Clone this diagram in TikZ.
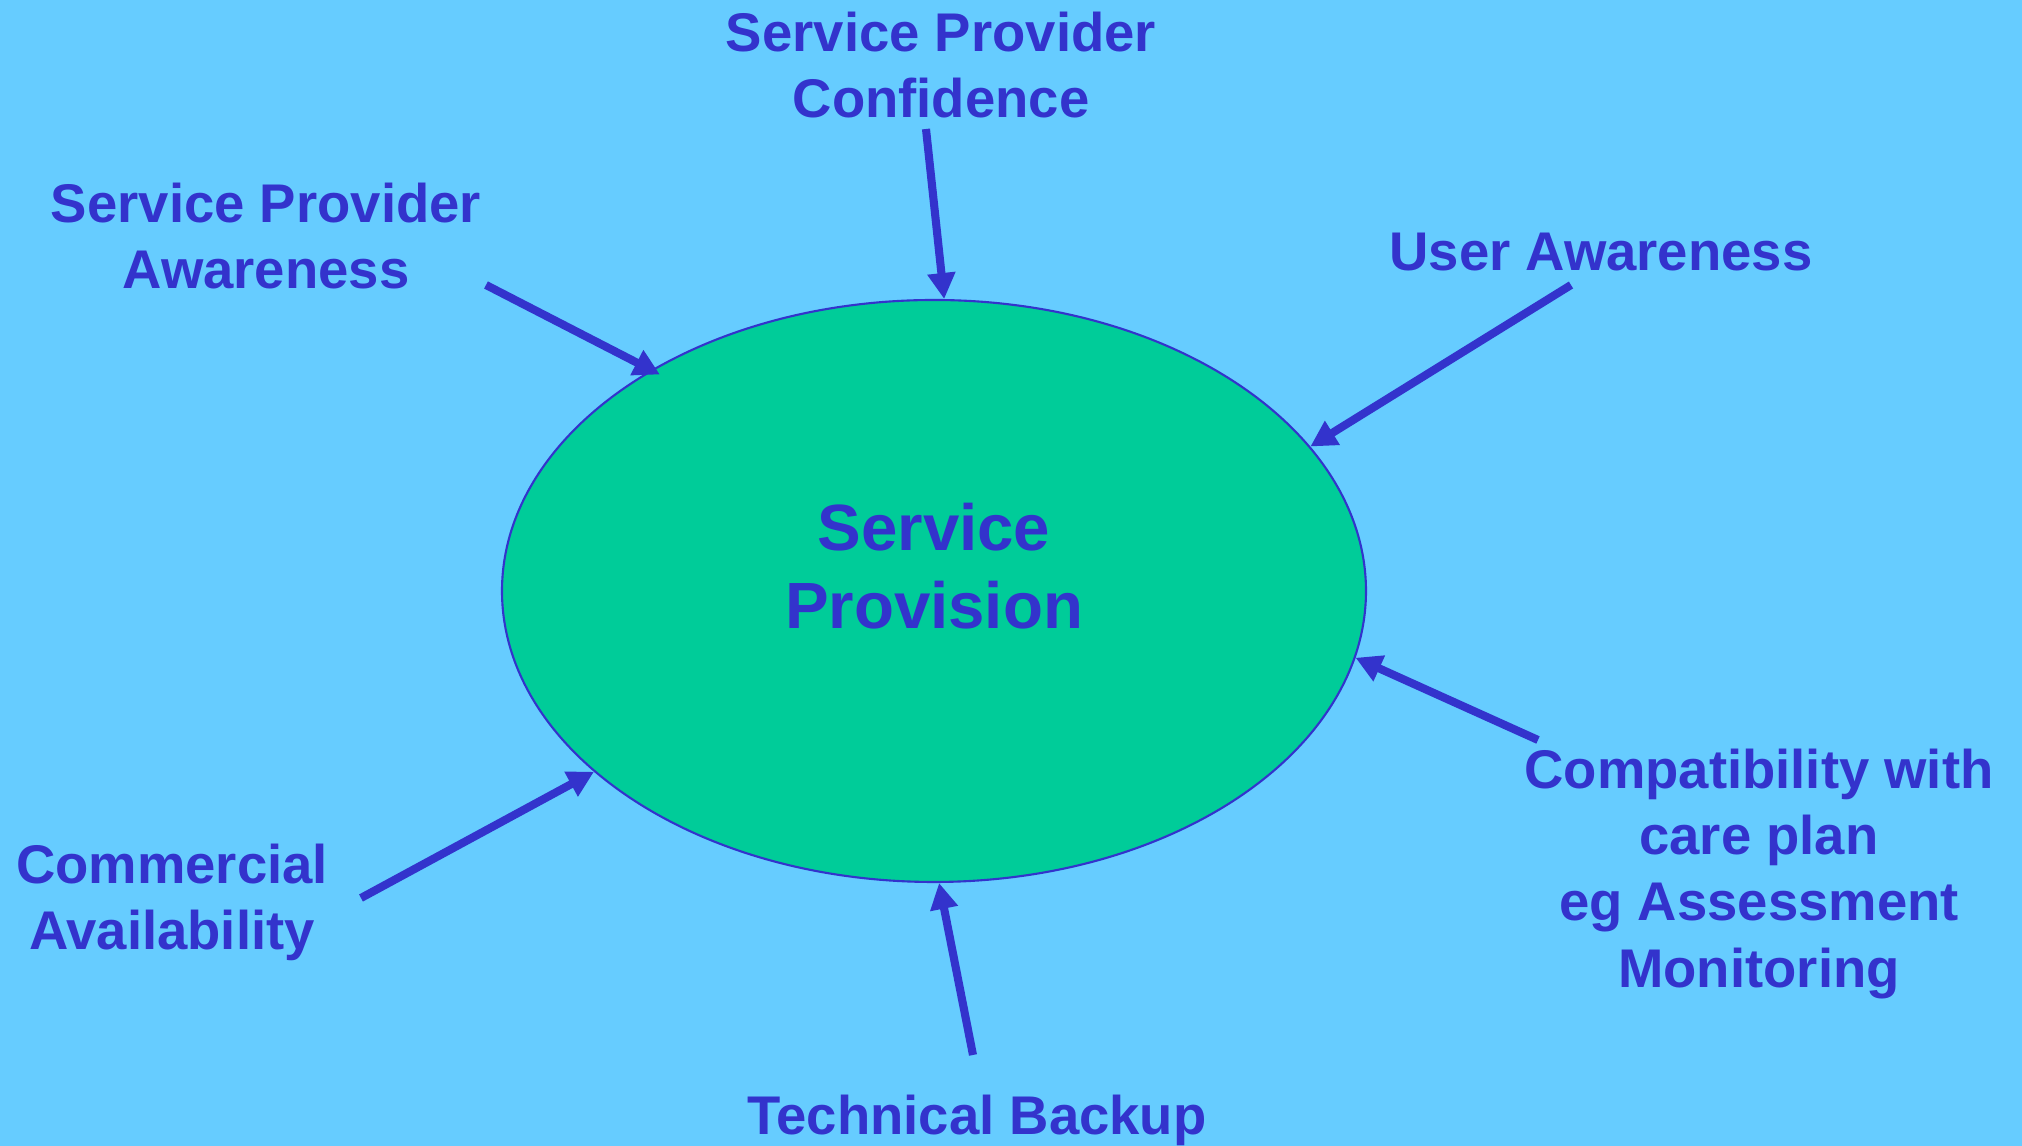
\documentclass[tikz,border=0pt]{standalone}
\usepackage{fontspec}
\setmainfont{Liberation Sans}
\usetikzlibrary{arrows.meta,shapes.geometric}
\definecolor{skyback}{HTML}{66CCFF}
\definecolor{provgreen}{HTML}{00CC99}
\definecolor{inkblue}{HTML}{3333CC}
\begin{document}
\begin{tikzpicture}[
    lbl/.style={text=inkblue,font=\fontsize{15.5}{18.8}\selectfont\bfseries,align=center,inner sep=0pt},
    feed/.style={draw=inkblue,line width=2.3pt,-{Triangle[length=7.4pt,width=7.6pt]}}]
	\fill[skyback] (0,0) rectangle (20.22,11.46);
	\useasboundingbox (0,0) rectangle (20.22,11.46);
	% the centre
	\node[ellipse,draw=inkblue,line width=0.6pt,fill=provgreen,minimum width=8.64cm,minimum height=5.82cm,inner sep=0pt] (prov) at (9.34,5.55) {};
	\node[lbl,font=\fontsize{18.6}{22.3}\selectfont\bfseries] (provtxt) at (9.34,5.80) {Service\\Provision};
	% the factors
	\node[lbl] (conf) at (9.41,10.81) {Service Provider\\Confidence};
	\node[lbl] (spaware) at (2.66,9.10) {Service Provider\\Awareness};
	\node[lbl] (useraware) at (16.01,8.94) {User Awareness};
	\node[lbl] (compat) at (17.59,2.72) {Compatibility with\\care plan\\eg Assessment\\Monitoring};
	\node[lbl] (comm) at (1.72,2.44) {Commercial\\Availability};
	\node[lbl,anchor=base] (tech) at (9.77,0.11) {Technical Backup};
	% arrow tails
	\coordinate (conftail) at (9.26,10.17);
	\coordinate (spatail) at (4.86,8.61);
	\coordinate (usertail) at (15.71,8.61);
	\coordinate (compattail) at (15.38,4.06);
	\coordinate (commtail) at (3.61,2.48);
	\coordinate (techtail) at (9.73,0.91);
	\draw[feed] (conftail) -- (prov.88.6);
	\draw[feed,shorten >=-1mm] (spatail) -- (prov.142.3);
	\draw[feed] (usertail) -- (prov.21.9);
	\draw[feed] (compattail) -- (prov.-9.6);
	\draw[feed] (commtail) -- (prov.208.2);
	\draw[feed] (techtail) -- (prov.271.6);
\end{tikzpicture}
\end{document}
